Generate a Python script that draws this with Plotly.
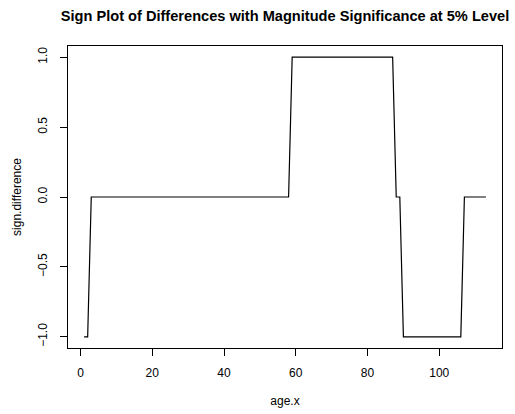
import plotly.graph_objects as go

age_x = list(range(1, 114))
sign_difference = [
    -1, -1,
    0, 0, 0, 0, 0, 0, 0, 0, 0, 0, 0, 0, 0, 0, 0, 0, 0, 0, 0, 0, 0, 0, 0, 0, 0, 0,
    0, 0, 0, 0, 0, 0, 0, 0, 0, 0, 0, 0, 0, 0, 0, 0, 0, 0, 0, 0, 0, 0, 0, 0, 0, 0,
    0, 0, 0, 0,
    1, 1, 1, 1, 1, 1, 1, 1, 1, 1, 1, 1, 1, 1, 1, 1, 1, 1, 1, 1, 1, 1, 1, 1, 1, 1,
    1, 1, 1,
    0, 0,
    -1, -1, -1, -1, -1, -1, -1, -1, -1, -1, -1, -1, -1, -1, -1, -1, -1,
    0, 0, 0, 0, 0, 0, 0,
]
x_ticks = [0, 20, 40, 60, 80, 100]
y_ticks = [-1.0, -0.5, 0.0, 0.5, 1.0]
y_tick_text = ["-1.0", "-0.5", "0.0", "0.5", "1.0"]
y_tick_text = [t.replace("-", "\u2212") for t in y_tick_text]

title_text = "Sign Plot of Differences with Magnitude Significance at 5% Level"

fig = go.Figure()
fig.add_trace(go.Scatter(x=age_x, y=sign_difference, mode="lines",
                         line=dict(color="black", width=1.2), showlegend=False))

font_family = "Liberation Sans, Arial, sans-serif"

fig.update_layout(
    width=515, height=414,
    margin=dict(l=68, r=13, t=46, b=66),
    paper_bgcolor="white", plot_bgcolor="white",
    font=dict(family=font_family, size=12, color="black"),
    title=dict(text="<b>" + title_text + "</b>", x=(68 + 502) / 2 / 515, xanchor="center",
               y=1 - 16 / 414, yanchor="middle",
               font=dict(size=14.6, family=font_family, color="black")),
    xaxis=dict(range=[-3.48, 117.48], tickvals=x_ticks, ticks="outside", ticklen=7,
               tickwidth=1, tickcolor="black", showgrid=False, zeroline=False,
               showline=True, linecolor="black", linewidth=1, mirror=True,
               tickfont=dict(size=12), ticklabelstandoff=7, automargin=False,
               title=dict(text="age.x", font=dict(size=12), standoff=17)),
    yaxis=dict(range=[-1.08, 1.08], tickvals=y_ticks, ticktext=y_tick_text,
               ticks="outside", ticklen=7, tickwidth=1, tickcolor="black",
               showgrid=False, zeroline=False, showline=True, linecolor="black",
               linewidth=1, mirror=True, tickangle=-90, tickfont=dict(size=12),
               ticklabelstandoff=8, automargin=False,
               title=dict(text="sign.difference", font=dict(size=12), standoff=12)),
)

fig.write_html("out.html")
